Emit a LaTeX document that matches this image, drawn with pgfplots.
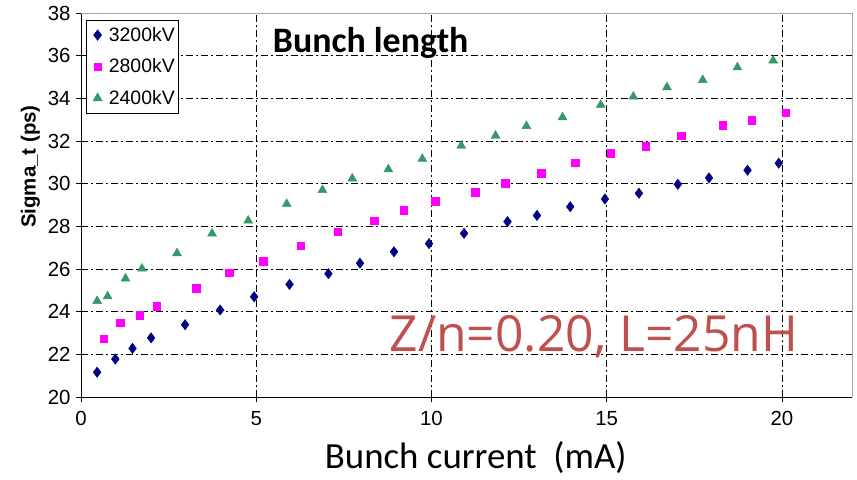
\documentclass[border=0pt]{standalone}
\usepackage{pgfplots}
\pgfplotsset{compat=1.18}
\usepackage{fontspec}
\setmainfont{Liberation Sans}
\newfontfamily\calibri{Carlito}
\newfontfamily\osans{Open Sans}
\definecolor{navyd}{HTML}{000080}
\definecolor{magsq}{HTML}{FF00FF}
\definecolor{greentr}{HTML}{339966}
\definecolor{redtxt}{HTML}{C0504D}
\begin{document}
\begin{tikzpicture}
\useasboundingbox (-81bp,-83bp) rectangle (776bp,397bp);
\begin{axis}[
  scale only axis, width=771bp, height=384bp,
  xmin=0, xmax=22, ymin=20, ymax=38,
  xtick={0,5,10,15,20}, ytick={20,22,...,38},
  axis x line*=bottom, axis y line*=left,
  axis line style={black, line width=0.8bp},
  tick align=outside, major tick length=5bp,
  tick style={black, line width=0.8bp},
  grid=major,
  major grid style={black, line width=0.8bp, dash pattern=on 7bp off 3bp on 2bp off 3bp},
  /pgf/number format/assume math mode=true,
  tick label style={font=\fontsize{20.5}{20.5}\selectfont},
  xticklabel style={yshift=-6bp},
  yticklabel style={xshift=-2bp},
  xlabel={Bunch current\ \ (mA)},
  xlabel style={font=\calibri\fontsize{37}{37}\selectfont, at={(ticklabel cs:0.512)}, anchor=north, yshift=-9bp},
  ylabel={\textbf{Sigma\_t (ps)}},
  ylabel style={font=\fontsize{20.5}{20.5}\selectfont, at={(ticklabel cs:0.6)}, anchor=south, yshift=1bp},
  legend style={at={(rel axis cs:0,1)}, anchor=north west, xshift=5bp, yshift=-7bp,
    font=\fontsize{19.5}{19.5}\selectfont, draw=black, line width=0.6bp,
    inner xsep=2bp, inner ysep=5bp, row sep=12bp,
    /tikz/every even column/.append style={column sep=2bp}},
  legend cell align=left,
  legend image code/.code={\path (0bp,0bp) (18bp,0bp); \draw[#1] plot coordinates {(9bp,0bp)};},
  clip=false,
]
\addplot[only marks, mark=diamond*, mark size=5.2bp, color=navyd, mark options={draw=navyd, fill=navyd}]
coordinates {(0.46,21.16)(0.98,21.78)(1.47,22.28)(2.0,22.77)(2.97,23.39)(3.97,24.08)(4.94,24.70)(5.95,25.28)(7.06,25.78)(7.96,26.27)(8.93,26.81)(9.93,27.19)(10.93,27.67)(12.17,28.22)(13.01,28.51)(13.96,28.92)(14.95,29.28)(15.92,29.55)(17.03,29.97)(17.92,30.27)(19.02,30.63)(19.91,30.96)};
\addlegendentry{3200kV}
\addplot[only marks, mark=square*, mark size=3.8bp, color=magsq, mark options={draw=magsq, fill=magsq}]
coordinates {(0.65,22.73)(1.11,23.48)(1.67,23.84)(2.16,24.27)(3.29,25.11)(4.23,25.83)(5.20,26.36)(6.27,27.09)(7.33,27.74)(8.37,28.27)(9.21,28.75)(10.1,29.19)(11.25,29.6)(12.1,30.02)(13.13,30.5)(14.11,30.98)(15.11,31.42)(16.11,31.77)(17.13,32.25)(18.31,32.75)(19.14,32.97)(20.11,33.33)};
\addlegendentry{2800kV}
\addplot[only marks, mark=triangle*, mark size=5.2bp, color=greentr, mark options={draw=greentr, fill=greentr}]
coordinates {(0.46,24.5)(0.76,24.72)(1.27,25.55)(1.74,26.02)(2.74,26.74)(3.74,27.66)(4.77,28.27)(5.87,29.05)(6.89,29.7)(7.74,30.24)(8.77,30.67)(9.74,31.16)(10.85,31.78)(11.83,32.25)(12.71,32.7)(13.74,33.11)(14.83,33.69)(15.76,34.08)(16.72,34.52)(17.74,34.86)(18.73,35.45)(19.75,35.77)};
\addlegendentry{2400kV}
\draw[gray!70, line width=0.8bp] (rel axis cs:0,1) -- (rel axis cs:1,1) -- (rel axis cs:1,0);
\node[anchor=base west, inner sep=0pt, font=\calibri\bfseries\fontsize{36}{36}\selectfont] at (axis cs:5.47,36.17) {Bunch length};
\node[anchor=base west, inner sep=0pt, text=redtxt, font=\osans\fontsize{50}{50}\selectfont] at (axis cs:8.8,22.11) {Z/n=0.20, L=25nH};
\end{axis}
\end{tikzpicture}
\end{document}
